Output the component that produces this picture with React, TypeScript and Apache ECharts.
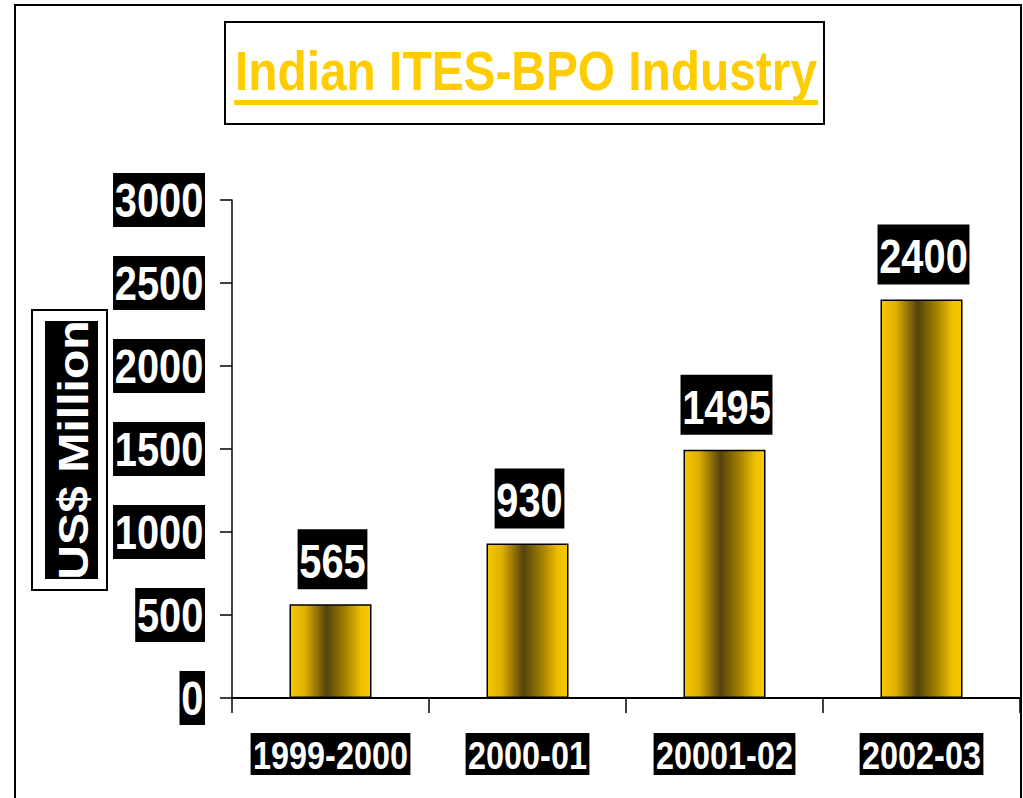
import React, { useEffect, useRef } from "react";
import * as echarts from "echarts";

const categories = ["1999-2000", "2000-01", "20001-02", "2002-03"];
const values = [565, 930, 1495, 2400];
const yTicks = [0, 500, 1000, 1500, 2000, 2500, 3000];
const titleText = "Indian ITES-BPO Industry";
const yAxisName = "US$ Million";

const SANS = "'Liberation Sans', Arial, sans-serif";
const NARROW_SCALE = 0.83;

export default function App() {
  const ref = useRef<HTMLDivElement>(null);
  useEffect(() => {
    if (!ref.current) return;
    const chart = echarts.init(ref.current, undefined, { renderer: "svg" });
    const barGradient = new echarts.graphic.LinearGradient(0, 0, 1, 0, [
      { offset: 0, color: "#F8C800" },
      { offset: 0.18, color: "#E0B000" },
      { offset: 0.45, color: "#55430E" },
      { offset: 0.7, color: "#A88400" },
      { offset: 0.88, color: "#F0C000" },
      { offset: 1, color: "#F8C800" },
    ]);
    chart.setOption({
      animation: false,
      backgroundColor: "#ffffff",
      grid: { left: 232, top: 200, right: 3, bottom: 100, containLabel: false },
      xAxis: {
        type: "category",
        data: categories,
        boundaryGap: true,
        axisLine: { show: true, lineStyle: { color: "#000", width: 2 } },
        axisTick: { show: true, alignWithLabel: false, length: 15, lineStyle: { color: "#000", width: 1.5 } },
        axisLabel: { show: false },
      },
      yAxis: {
        type: "value",
        min: yTicks[0],
        max: yTicks[yTicks.length - 1],
        interval: 500,
        splitLine: { show: false },
        axisLine: { show: true, lineStyle: { color: "#000", width: 1.5 } },
        axisTick: { show: true, inside: false, length: 12, lineStyle: { color: "#000", width: 1.5 } },
        axisLabel: { show: false },
      },
      series: [
        {
          type: "bar",
          data: values,
          barWidth: 82,
          itemStyle: { color: barGradient, borderColor: "#000", borderWidth: 1.5 },
          label: { show: false },
        },
      ],
    });

    const gridRect = { left: 232, bottom: 698 };
    const labelFont = "bold 48px " + SANS;
    const graphics: any[] = [
      {
        type: "rect",
        shape: { x: 15, y: 5, width: 1006, height: 820 },
        style: { fill: "none", stroke: "#000", lineWidth: 2 },
        silent: true,
        z: -1,
      },
      {
        type: "rect",
        shape: { x: 225, y: 22, width: 599, height: 102 },
        style: { fill: "#fff", stroke: "#000", lineWidth: 2 },
      },
      {
        type: "group",
        x: 526,
        y: 98,
        scaleX: 0.87,
        children: [
          {
            type: "text",
            style: {
              text: titleText,
              fill: "#FFCC00",
              font: "bold 55px " + SANS,
              align: "center",
              verticalAlign: "bottom",
            },
          },
        ],
      },
      {
        type: "rect",
        shape: { x: 234, y: 100, width: 584, height: 5 },
        style: { fill: "#FFCC00" },
      },
      {
        type: "rect",
        shape: { x: 32, y: 310, width: 75, height: 280 },
        style: { fill: "#fff", stroke: "#000", lineWidth: 2 },
      },
      {
        type: "rect",
        shape: { x: 45, y: 321, width: 53, height: 258 },
        style: { fill: "#000" },
      },
      {
        type: "group",
        x: 73,
        y: 450,
        rotation: Math.PI / 2,
        children: [
          {
            type: "text",
            scaleX: 1.12,
            style: {
              text: yAxisName,
              fill: "#fff",
              font: "bold 43px " + SANS,
              align: "center",
              verticalAlign: "middle",
            },
          },
        ],
      },
    ];

    // y-axis tick labels, positioned by the value axis scale
    yTicks.forEach((t) => {
      const p = chart.convertToPixel({ yAxisIndex: 0 }, t) as number;
      graphics.push({
        type: "group",
        x: gridRect.left - 27,
        y: p,
        scaleX: NARROW_SCALE,
        children: [
          {
            type: "text",
            style: {
              text: String(t),
              fill: "#fff",
              font: labelFont,
              align: "right",
              verticalAlign: "middle",
              backgroundColor: "#000",
              padding: [5, 2, 1, 2],
            },
          },
        ],
      });
    });

    // x-axis category labels
    categories.forEach((c) => {
      const px = chart.convertToPixel({ xAxisIndex: 0 }, c) as number;
      graphics.push({
        type: "group",
        x: px,
        y: gridRect.bottom + 35,
        scaleX: NARROW_SCALE,
        children: [
          {
            type: "text",
            style: {
              text: c,
              fill: "#fff",
              font: "bold 39px " + SANS,
              align: "center",
              verticalAlign: "top",
              backgroundColor: "#000",
              padding: [3, 3, 0, 3],
            },
          },
        ],
      });
    });

    // value labels above bars
    values.forEach((v, i) => {
      const pt = chart.convertToPixel({ gridIndex: 0 }, [categories[i], v]) as number[];
      graphics.push({
        type: "group",
        x: pt[0] + 2,
        y: pt[1] - 15,
        scaleX: NARROW_SCALE,
        children: [
          {
            type: "text",
            style: {
              text: String(v),
              fill: "#fff",
              font: labelFont,
              align: "center",
              verticalAlign: "bottom",
              backgroundColor: "#000",
              padding: [8, 2, 4, 2],
            },
          },
        ],
      });
    });

    chart.setOption({ graphic: graphics });
    return () => chart.dispose();
  }, []);
  return (
    <div
      ref={ref}
      style={{ position: "fixed", left: 0, top: 0, width: 1023, height: 798 }}
    />
  );
}
